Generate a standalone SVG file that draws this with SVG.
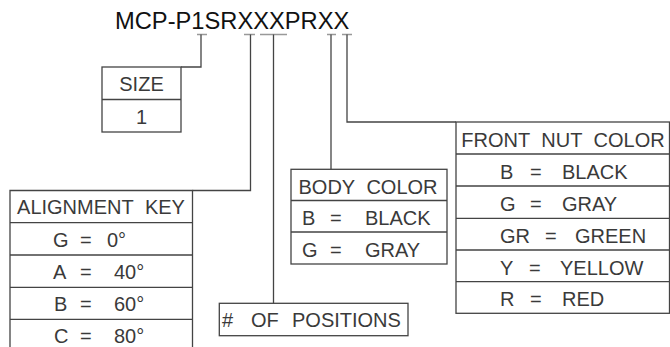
<svg xmlns="http://www.w3.org/2000/svg" width="670" height="347" viewBox="0 0 670 347">
<style>
.t{font-family:"Liberation Sans",Arial,sans-serif;font-size:20px;fill:#3a3a3a}
.m{text-anchor:middle}
.h{word-spacing:6px}
.title{font-family:"Liberation Sans",Arial,sans-serif;font-size:23.7px;fill:#111}
.box{fill:none;stroke:#444;stroke-width:1.3}
.ln{fill:none;stroke:#444;stroke-width:1.3}
.tick{fill:none;stroke:#999;stroke-width:1.6}
</style>
<rect width="670" height="347" fill="#fff"/>
<g id="title">
<text class="title" x="115" y="29">MCP-P1SRXXXPRXX</text>
</g>
<g id="connectors">
<path class="tick" d="M197,34.5H207M244,34.5H255M260,34.5H287M327,34.5H336M342,34.5H352"/>
<path class="ln" d="M201,34.5V67H181"/>
<path class="ln" d="M250.5,34.5V190.5H192.5"/>
<path class="ln" d="M273.5,34.5V303.3"/>
<path class="ln" d="M331,34.5V169.3"/>
<path class="ln" d="M347,34.5V122H456"/>
</g>
<g id="size">
<rect class="box" x="102" y="67" width="79" height="65"/>
<path class="ln" d="M102,99.5H181"/>
<text class="t m" x="141.5" y="91">SIZE</text>
<text class="t m" x="141.5" y="123.5">1</text>
</g>
<g id="alignment-key">
<path class="box" d="M10,352V190.5H192.5V352"/>
<path class="ln" d="M10,222.7H192.5M10,255H192.5M10,287.3H192.5M10,319.3H192.5"/>
<text class="t m h" x="101" y="214">ALIGNMENT KEY</text>
<text class="t" y="246.5"><tspan x="53">G</tspan><tspan x="80">=</tspan><tspan x="107">0°</tspan></text>
<text class="t" y="278.5"><tspan x="53">A</tspan><tspan x="80">=</tspan><tspan x="114">40°</tspan></text>
<text class="t" y="310.5"><tspan x="54">B</tspan><tspan x="80">=</tspan><tspan x="114">60°</tspan></text>
<text class="t" y="342.5"><tspan x="54">C</tspan><tspan x="80">=</tspan><tspan x="114">80°</tspan></text>
</g>
<g id="positions">
<rect class="box" x="219.3" y="303.3" width="188.7" height="32.4"/>
<text class="t" y="327"><tspan x="222">#</tspan><tspan x="251">OF</tspan><tspan x="292">POSITIONS</tspan></text>
</g>
<g id="body-color">
<rect class="box" x="291" y="169.3" width="156" height="94.7"/>
<path class="ln" d="M291,200.5H447M291,232H447"/>
<text class="t m h" x="368" y="193.5">BODY COLOR</text>
<text class="t" y="225"><tspan x="302">B</tspan><tspan x="330">=</tspan><tspan x="365">BLACK</tspan></text>
<text class="t" y="256.5"><tspan x="302">G</tspan><tspan x="330">=</tspan><tspan x="365">GRAY</tspan></text>
</g>
<g id="front-nut-color">
<rect class="box" x="456" y="122" width="213.5" height="191.3"/>
<path class="ln" d="M456,154H669.5M456,186H669.5M456,218.3H669.5M456,250H669.5M456,281.7H669.5"/>
<text class="t m h" x="563" y="146.5">FRONT NUT COLOR</text>
<text class="t" y="178.5"><tspan x="500">B</tspan><tspan x="530">=</tspan><tspan x="562">BLACK</tspan></text>
<text class="t" y="210.5"><tspan x="500">G</tspan><tspan x="530">=</tspan><tspan x="562">GRAY</tspan></text>
<text class="t" y="242.5"><tspan x="500">GR</tspan><tspan x="545">=</tspan><tspan x="575">GREEN</tspan></text>
<text class="t" y="274.5"><tspan x="500">Y</tspan><tspan x="529">=</tspan><tspan x="560">YELLOW</tspan></text>
<text class="t" y="306"><tspan x="500">R</tspan><tspan x="530">=</tspan><tspan x="562">RED</tspan></text>
</g>
</svg>
